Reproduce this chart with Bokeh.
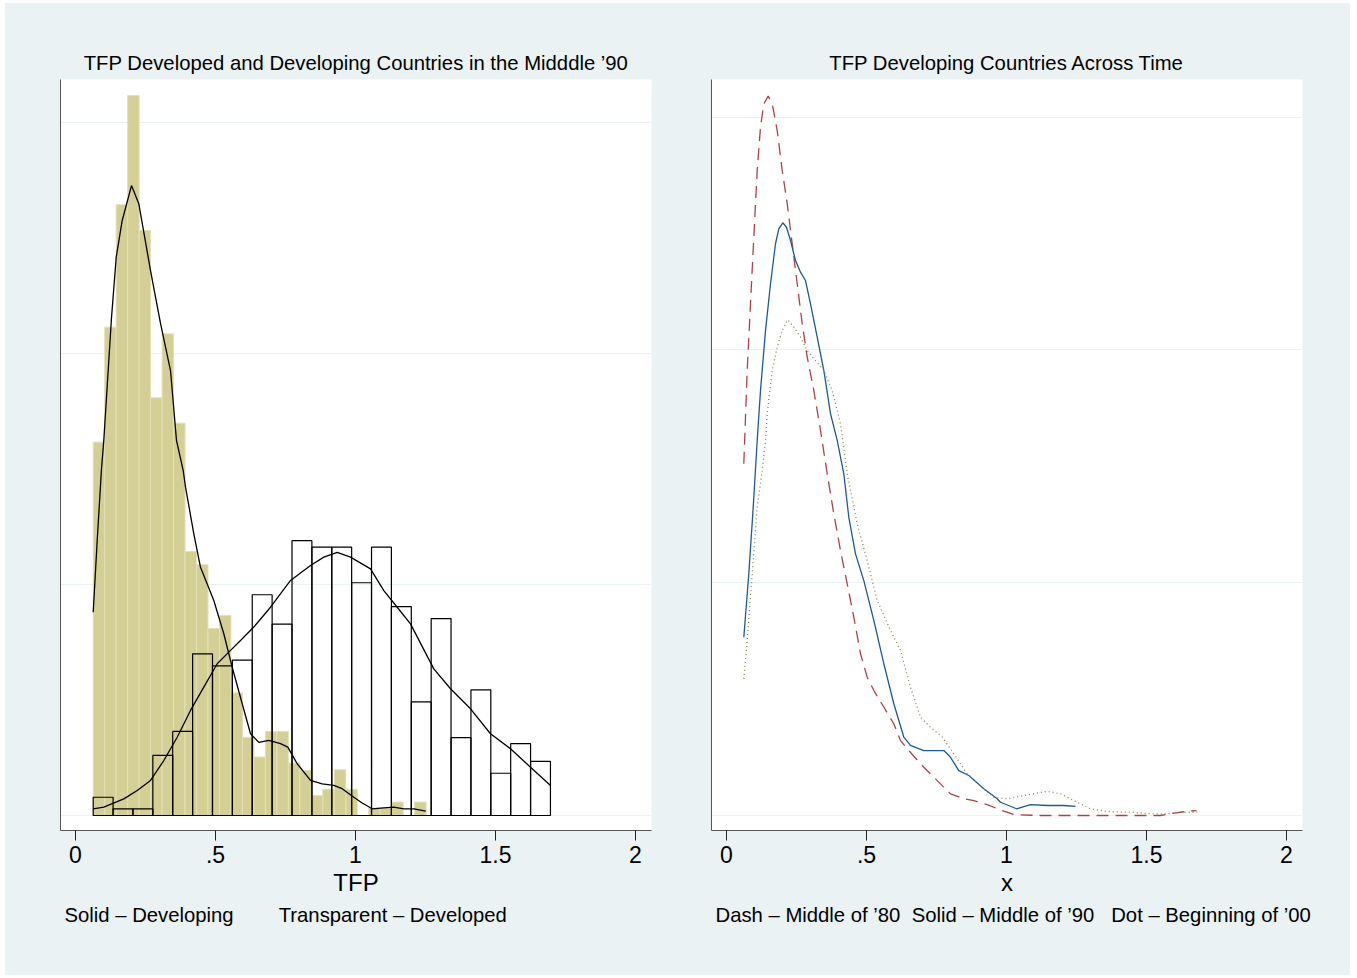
from bokeh.plotting import figure
from bokeh.models import Range1d, FixedTicker, Title, Spacer
from bokeh.layouts import row, column
from bokeh.embed import file_html
from bokeh.resources import INLINE

# ---------------- data ----------------
# Developing countries histogram (density), bins start / width
dev_bin_start = 0.0632
dev_bin_width = 0.0410
dev_density = [1.617, 2.115, 2.645, 3.118, 2.534, 1.809, 2.086, 1.699, 1.143, 1.086,
               0.810, 0.866, 0.531, 0.339, 0.253, 0.364, 0.364, 0.227, 0.195, 0.087,
               0.114, 0.198, 0.114, 0.0, 0.032, 0.032, 0.058, 0.0, 0.058]

# Developed countries histogram (density)
dvd_bin_start = 0.0632
dvd_bin_width = 0.0710
dvd_density = [0.079, 0.029, 0.029, 0.260, 0.364, 0.700, 0.648, 0.673, 0.956, 0.829,
               1.190, 1.162, 1.162, 1.008, 1.162, 0.905, 0.492, 0.853, 0.337, 0.544,
               0.183, 0.311, 0.234]

# Kernel density, developing (left panel)
kd_dev_x = [0.0632, 0.0775, 0.0929, 0.101, 0.1286, 0.1454, 0.1668, 0.2, 0.2261, 0.2679,
            0.3036, 0.3393, 0.3607, 0.3846, 0.3929, 0.4225, 0.4464, 0.4939, 0.5296, 0.5596,
            0.5954, 0.625, 0.6546, 0.6904, 0.7321, 0.7582, 0.7918, 0.8393, 0.8811, 0.9225,
            0.9525, 0.9939, 1.0239, 1.0596, 1.1011, 1.1368, 1.1725, 1.2082, 1.2511]
kd_dev_y = [0.880, 1.191, 1.503, 1.624, 2.157, 2.418, 2.577, 2.728, 2.649, 2.360,
            2.131, 1.927, 1.624, 1.494, 1.422, 1.220, 1.075, 0.931, 0.787, 0.642,
            0.484, 0.354, 0.317, 0.325, 0.311, 0.296, 0.224, 0.152, 0.137, 0.130,
            0.116, 0.079, 0.054, 0.029, 0.033, 0.036, 0.029, 0.029, 0.019]

# Kernel density, developed (left panel)
kd_dvd_x = [0.0632, 0.101, 0.1725, 0.2204, 0.2679, 0.3154, 0.3632, 0.4107, 0.4582, 0.5061,
            0.5536, 0.5893, 0.6368, 0.6964, 0.7679, 0.8393, 0.8868, 0.9346, 0.9821, 1.0536,
            1.1011, 1.1489, 1.1964, 1.2796, 1.3393, 1.4107, 1.4821, 1.5536, 1.625, 1.6964]
kd_dvd_y = [0.029, 0.036, 0.072, 0.108, 0.152, 0.238, 0.339, 0.455, 0.556, 0.657,
            0.715, 0.758, 0.816, 0.902, 1.018, 1.083, 1.119, 1.140, 1.119, 1.068,
            0.974, 0.902, 0.830, 0.635, 0.549, 0.462, 0.354, 0.289, 0.209, 0.130]

# Right panel: developing countries across time
k80_x = [0.0618, 0.0739, 0.0857, 0.0975, 0.1096, 0.1214, 0.1332, 0.1489, 0.1632, 0.1811,
         0.1989, 0.2168, 0.2346, 0.2525, 0.2704, 0.2882, 0.3118, 0.3357, 0.3596, 0.3832,
         0.4071, 0.4311, 0.4546, 0.4786, 0.5025, 0.5261, 0.5618, 0.5975, 0.6214, 0.6511,
         0.6929, 0.7286, 0.7643, 0.8, 0.8475, 0.8832, 0.9311, 0.9786, 1.0261, 1.1214,
         1.3357, 1.55, 1.5975, 1.6454, 1.6786]
k80_y = [1.511, 1.912, 2.199, 2.484, 2.771, 2.957, 3.057, 3.090, 3.057, 2.942,
         2.771, 2.628, 2.456, 2.284, 2.112, 1.969, 1.826, 1.654, 1.468, 1.296,
         1.138, 0.995, 0.852, 0.695, 0.594, 0.537, 0.466, 0.394, 0.322, 0.279,
         0.222, 0.179, 0.136, 0.093, 0.072, 0.064, 0.047, 0.024, 0.004, 0.0,
         0.0, 0.0, 0.010, 0.018, 0.021]

k90_x = [0.0618, 0.0796, 0.0954, 0.1096, 0.1214, 0.1393, 0.1571, 0.175, 0.1868, 0.2011,
         0.2143, 0.2286, 0.2464, 0.2643, 0.2821, 0.3, 0.3239, 0.3475, 0.3714, 0.3954,
         0.4189, 0.4368, 0.4607, 0.4904, 0.5261, 0.5618, 0.5975, 0.6332, 0.6571, 0.7046,
         0.7761, 0.8, 0.8296, 0.8654, 0.9189, 0.9668, 0.9786, 1.0357, 1.0857, 1.1454,
         1.2046, 1.2464]
k90_y = [0.766, 1.038, 1.324, 1.611, 1.826, 2.083, 2.284, 2.456, 2.520, 2.546,
         2.527, 2.470, 2.384, 2.334, 2.298, 2.198, 2.055, 1.912, 1.726, 1.611,
         1.468, 1.281, 1.124, 1.009, 0.838, 0.652, 0.480, 0.337, 0.301, 0.279,
         0.279, 0.250, 0.193, 0.172, 0.115, 0.072, 0.057, 0.029, 0.047, 0.043,
         0.043, 0.039]

k00_x = [0.0618, 0.0739, 0.0918, 0.1096, 0.1275, 0.1393, 0.1454, 0.1632, 0.1811, 0.1989,
         0.2189, 0.2404, 0.2643, 0.2882, 0.3179, 0.3475, 0.3775, 0.4071, 0.4311, 0.4668,
         0.5025, 0.5382, 0.5857, 0.6214, 0.6571, 0.6929, 0.7286, 0.7704, 0.8118, 0.8596,
         0.9071, 0.9546, 1.0025, 1.0618, 1.1454, 1.1929, 1.2404, 1.3, 1.3596, 1.4429,
         1.5261, 1.5739, 1.6214, 1.6811]
k00_y = [0.587, 0.752, 1.038, 1.324, 1.482, 1.611, 1.726, 1.912, 2.012, 2.083,
         2.129, 2.098, 2.055, 1.997, 1.954, 1.912, 1.826, 1.683, 1.468, 1.253,
         1.095, 0.924, 0.795, 0.709, 0.551, 0.422, 0.379, 0.337, 0.265, 0.179,
         0.125, 0.079, 0.072, 0.086, 0.104, 0.093, 0.064, 0.029, 0.017, 0.014,
         0.007, 0.007, 0.014, 0.014]

x_ticks = [0, 0.5, 1, 1.5, 2]
x_tick_labels = ["0", ".5", "1", "1.5", "2"]
y_grid = [0, 1, 2, 3]

left_title = "TFP Developed and Developing Countries in the Midddle \u201990"
right_title = "TFP Developing Countries Across Time"
left_xlabel = "TFP"
right_xlabel = "x"
NB = "\u00a0"
left_note = "Solid \u2013 Developing" + NB * 8 + "Transparent \u2013 Developed"
right_note = ("Dash \u2013 Middle of \u201980" + NB * 2 + "Solid \u2013 Middle of \u201990"
              + NB * 3 + "Dot \u2013 Beginning of \u201900")

# ---------------- style ----------------
BG = "#EAF2F3"
FONT = "Liberation Sans"
KHAKI = "#D4CF94"
KHAKI_EDGE = "#E3E0B6"


def make_fig(width, bl, br, ymin, ymax, title, xlabel, note):
    p = figure(width=width, height=972, output_backend="svg", toolbar_location=None,
               x_range=Range1d(-0.0536, 2.0571), y_range=Range1d(ymin, ymax),
               min_border_left=bl, min_border_right=br, min_border_top=76,
               min_border_bottom=145)
    p.border_fill_color = BG
    p.background_fill_color = "white"
    p.outline_line_color = None
    p.title.text = title
    p.title.align = "center"
    p.title.text_font = FONT
    p.title.text_font_size = "20.3px"
    p.title.text_font_style = "normal"
    p.title.text_color = "black"
    p.title.standoff = 11

    p.xgrid.visible = False
    p.ygrid.ticker = FixedTicker(ticks=y_grid)
    p.ygrid.grid_line_color = BG
    p.ygrid.grid_line_width = 1.2

    p.yaxis.ticker = FixedTicker(ticks=[])
    p.yaxis.major_tick_line_color = None
    p.yaxis.minor_tick_line_color = None
    p.yaxis.major_label_text_font_size = "0px"
    p.yaxis.axis_line_color = "#555555"

    xa = p.xaxis[0]
    xa.ticker = FixedTicker(ticks=x_ticks)
    xa.major_label_overrides = {t: s for t, s in zip(x_ticks, x_tick_labels)}
    xa.minor_tick_line_color = None
    xa.major_tick_out = 10
    xa.major_tick_in = 0
    xa.major_tick_line_color = "#222222"
    xa.axis_line_color = "#555555"
    xa.major_label_text_font = FONT
    xa.major_label_text_font_size = "23px"
    xa.major_label_text_color = "black"
    xa.major_label_standoff = 5
    xa.axis_label = xlabel
    xa.axis_label_text_font = FONT
    xa.axis_label_text_font_size = "24px"
    xa.axis_label_text_font_style = "normal"
    xa.axis_label_text_color = "black"
    xa.axis_label_standoff = 3

    p.add_layout(Title(text=note, align="left", text_font=FONT, text_font_size="20.3px",
                       text_font_style="normal", text_color="black", offset=4,
                       standoff=7), "below")
    return p


# ---------------- left panel ----------------
p1 = make_fig(673, 55, 27, -0.065, 3.1875, left_title, left_xlabel, left_note)

dev_left = [dev_bin_start + i * dev_bin_width for i in range(len(dev_density))]
dev_right = [l + dev_bin_width for l in dev_left]
p1.quad(left=dev_left, right=dev_right, bottom=0, top=dev_density,
        fill_color=KHAKI, line_color=KHAKI_EDGE, line_width=1)

dvd_left = [dvd_bin_start + i * dvd_bin_width for i in range(len(dvd_density))]
dvd_right = [l + dvd_bin_width for l in dvd_left]
p1.quad(left=dvd_left, right=dvd_right, bottom=0, top=dvd_density,
        fill_color=None, line_color="black", line_width=1.2)

p1.line(kd_dev_x, kd_dev_y, line_color="black", line_width=1.3)
p1.line(kd_dvd_x, kd_dvd_y, line_color="black", line_width=1.3)

# ---------------- right panel ----------------
p2 = make_fig(672, 33, 48, -0.0644, 3.1615, right_title, right_xlabel, right_note)
p2.line(k80_x, k80_y, line_color="#A8434A", line_width=1.3, line_dash="12 7")
p2.line(k90_x, k90_y, line_color="#1D5A8E", line_width=1.3)
p2.line(k00_x, k00_y, line_color="#7D8C4A", line_width=1.3, line_dash="1 3")

panels = row(p1, p2, styles={"background-color": BG})
layout = column(Spacer(height=3), row(Spacer(width=5), panels))
open("out.html", "w").write(file_html(layout, INLINE))
